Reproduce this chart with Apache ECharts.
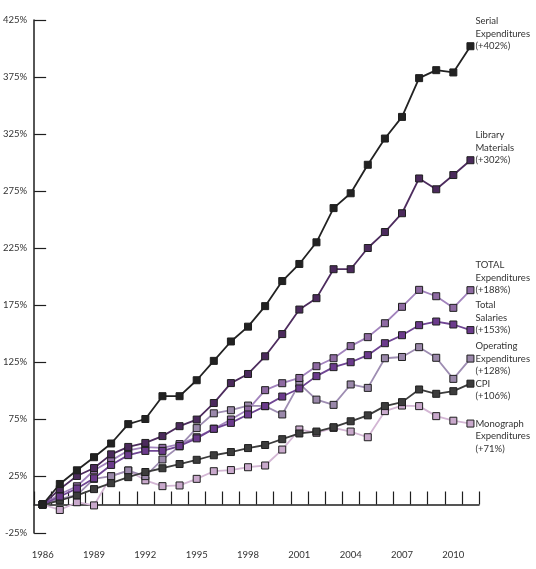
<!DOCTYPE html>
<html>
<head>
<meta charset="utf-8">
<script src="https://cdn.jsdelivr.net/npm/echarts@6/dist/echarts.min.js"></script>
<style>
html,body{margin:0;padding:0;background:#fff;}
#chart{width:536px;height:569px;}
</style>
</head>
<body>
<div id="chart"></div>
<script>
// ---- data ----
var years = [1986,1987,1988,1989,1990,1991,1992,1993,1994,1995,1996,1997,1998,1999,2000,2001,2002,2003,2004,2005,2006,2007,2008,2009,2010,2011];
var yTicks = [-25,25,75,125,175,225,275,325,375,425];

var serial    = [0,18,30,41.5,53.5,70.5,75,95,95,109,126,143,156,174,196,211,230,260,273,298,321,340,374,381,379,402];
var library   = [0,13.5,25,32,44,50.5,54,60,68.7,74.5,89,106.5,114.5,130,149.5,171,181,206.4,206.4,225,239,255.5,286,276.5,289,302];
var totalExp  = [0,9,16,30,38.5,47.4,50.3,49.7,53,59,66.5,74.6,83.3,100.3,106.4,111,121.3,128.3,138.9,146.8,159,173.4,188.3,182.7,172.5,188];
var salaries  = [0,7,14,23,34.7,43.3,47,47,51.3,58,66.4,71.6,79,86.3,94.7,101.8,112.6,120.5,124.8,131,141.5,148.5,157.3,160.5,157.9,153];
var operating = [0,5,8.2,22.5,24.8,29.8,24.9,39.5,51,67,80,82.7,86.8,86.3,79,106,92,87.4,105.3,102.3,128.3,129.4,138,128.7,110.2,128];
var cpi       = [0,3.5,8,13.5,18.7,24,28.5,31.8,35.5,39.2,43.2,46,49.5,52.2,57.3,62.3,64,67.8,73,78.2,86.3,89.8,100.9,97.1,99.4,106];
var monograph = [0,-4.8,2,-0.8,24.8,29.8,21.2,16.1,16.7,22.5,29.2,30.2,32.7,34.2,48.2,65.8,62.9,67.2,64,59,81.9,86.8,86.3,77.5,73.5,71];

var seriesNames = ['Monograph\nExpenditures','Operating\nExpenditures','CPI','TOTAL\nExpenditures','Total\nSalaries','Library\nMaterials','Serial\nExpenditures'];
var seriesChanges = ['(+71%)','(+128%)','(+106%)','(+188%)','(+153%)','(+302%)','(+402%)'];
var seriesValues = [monograph, operating, cpi, totalExp, salaries, library, serial];

// ---- styles ----
var FONT = 'Lato';
var LH = 12.5;
var styles = [
  {line:'#d3b6d4', fill:'#c9a9cc', labelShift: LH},      // first line at point
  {line:'#9e8db2', fill:'#9a88aa', labelShift: 0},       // middle line at point
  {line:'#3c3c3c', fill:'#3c3c3c', labelShift: LH/2},    // first line at point (2 lines)
  {line:'#a283bd', fill:'#8e6aa2', labelShift: -LH},
  {line:'#6f4593', fill:'#6b3a8c', labelShift: -LH},
  {line:'#4d2c5e', fill:'#4b2a5c', labelShift: -LH},
  {line:'#222222', fill:'#222222', labelShift: -LH}
];

var series = seriesValues.map(function(vals, k){
  var st = styles[k];
  var last = vals.length - 1;
  return {
    type:'line',
    name: seriesNames[k],
    xAxisIndex:0, yAxisIndex:0,
    data: vals.map(function(v,i){
      if (i !== last) return v;
      return {
        value: v,
        label: {
          show: true,
          position: 'right',
          distance: 1,
          offset: [0, st.labelShift],
          formatter: seriesNames[k] + '\n' + seriesChanges[k],
          fontFamily: FONT, fontSize: 9.5, lineHeight: LH, color:'#333', align:'left'
        }
      };
    }),
    symbol:'rect', symbolSize:7,
    lineStyle:{color: st.line, width:1.8},
    itemStyle:{color: st.fill, borderColor:'#1e1e1e', borderWidth:1},
    label:{show:false},
    emphasis:{disabled:true},
    animation:false,
    z: 2 + k
  };
});

var chart = echarts.init(document.getElementById('chart'), null, {renderer:'canvas'});
chart.setOption({
  backgroundColor:'#fff',
  animation:false,
  grid:{left:30, right:57, top:20, bottom:36, containLabel:false},
  xAxis:[
    {
      type:'category', data: years, boundaryGap:true, position:'bottom',
      axisLine:{show:true, onZero:true, lineStyle:{color:'#1e1e1e', width:1.5}},
      axisTick:{show:true, inside:true, length:13, alignWithLabel:false, interval:0, lineStyle:{color:'#1e1e1e', width:1.2}},
      axisLabel:{show:false},
      splitLine:{show:false}
    },
    {
      type:'category', data: years, boundaryGap:true, position:'bottom',
      axisLine:{show:false, onZero:false},
      axisTick:{show:false},
      axisLabel:{show:true, interval:2, margin:17, fontFamily:FONT, fontSize:9.5, color:'#333'},
      splitLine:{show:false}
    }
  ],
  yAxis:{
    type:'value', min:-25, max:425, position:'left',
    axisLine:{show:true, onZero:false, lineStyle:{color:'#1e1e1e', width:1.5}},
    axisTick:{show:true, inside:true, length:12, customValues: yTicks, lineStyle:{color:'#1e1e1e', width:1.2}},
    axisLabel:{show:true, customValues: yTicks, formatter:'{value}%', margin:7, fontFamily:FONT, fontSize:9.5, color:'#333'},
    splitLine:{show:false}
  },
  series: series
});
</script>
</body>
</html>
